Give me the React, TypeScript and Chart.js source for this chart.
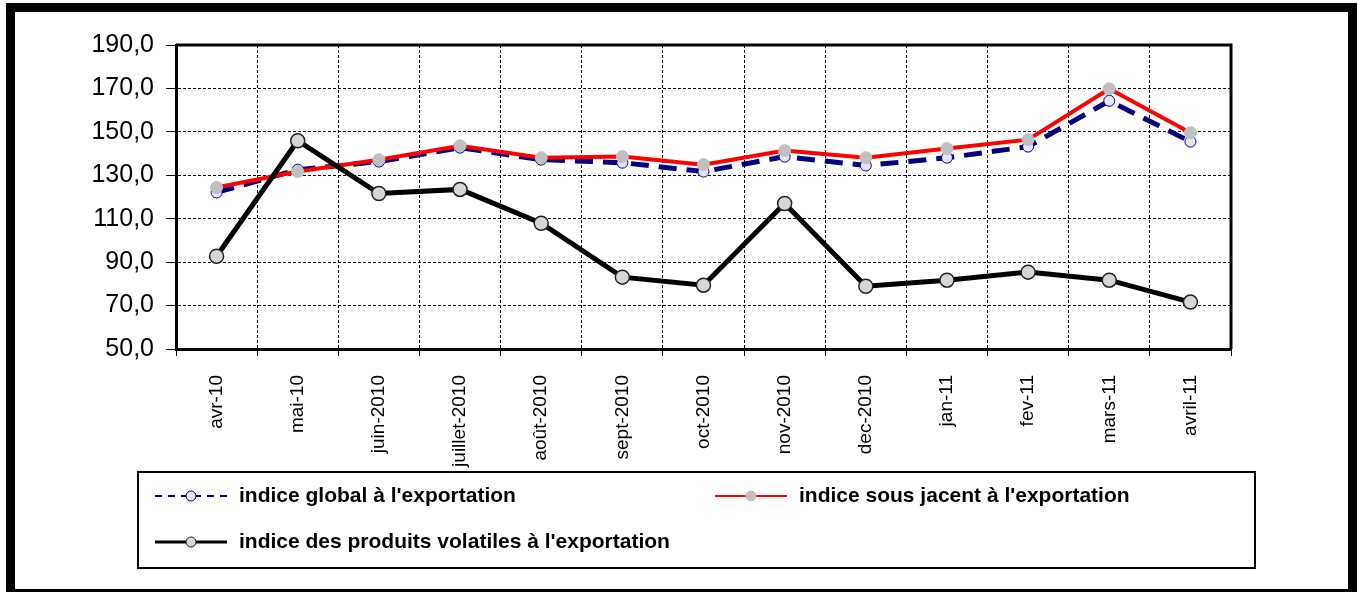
import React, { useEffect, useRef } from "react";
import { Chart, registerables } from "chart.js";

Chart.register(...registerables);

const months = [
  "avr-10", "mai-10", "juin-2010", "juillet-2010", "août-2010", "sept-2010",
  "oct-2010", "nov-2010", "dec-2010", "jan-11", "fev-11", "mars-11", "avril-11",
];
const indiceGlobal = [122.1, 132.6, 136.3, 142.7, 137.2, 135.8, 131.7, 138.6, 134.5, 138.1, 143.2, 164.3, 145.5];
const indiceSousJacent = [124.4, 131.7, 137.2, 143.6, 138.1, 138.6, 134.9, 141.4, 138.1, 142.3, 146.4, 169.8, 149.6];
const indiceVolatiles = [92.7, 145.9, 121.6, 123.5, 107.9, 83.1, 79.4, 117.0, 78.9, 81.7, 85.4, 81.7, 71.6];
const seriesNames = [
  "indice global à l'exportation",
  "indice sous jacent à l'exportation",
  "indice des produits volatiles à l'exportation",
];
const yMin = 50;
const yMax = 190;
const yStep = 20;

const FONT = "'Liberation Sans', Arial, sans-serif";

const framePlugin = {
  id: "frame",
  beforeDraw(chart: any) {
    const { ctx, width, height } = chart;
    ctx.save();
    ctx.fillStyle = "#ffffff";
    ctx.fillRect(0, 0, width, height);
    ctx.fillStyle = "#000000";
    ctx.fillRect(6, 3, 1351, 9); // top
    ctx.fillRect(6, 3, 9, 589); // left
    ctx.fillRect(1348, 3, 9, 589); // right
    ctx.fillRect(6, 589, 1351, 3); // bottom
    ctx.restore();
  },
  beforeDatasetsDraw(chart: any) {
    const { ctx, chartArea } = chart;
    ctx.save();
    ctx.strokeStyle = "#000";
    ctx.lineWidth = 3;
    ctx.beginPath();
    ctx.moveTo(chartArea.left, chartArea.top);
    ctx.lineTo(chartArea.right, chartArea.top);
    ctx.lineTo(chartArea.right, chartArea.bottom);
    ctx.stroke();
    ctx.restore();
  },
  afterDraw(chart: any) {
    const { ctx } = chart;
    ctx.save();
    // legend box
    ctx.fillStyle = "#fff";
    ctx.fillRect(138, 472, 1117, 96);
    ctx.strokeStyle = "#000";
    ctx.lineWidth = 2;
    ctx.strokeRect(138, 472, 1117, 96);
    const items = [
      { ds: 0, x: 155, y: 496, w: 2 },
      { ds: 1, x: 715, y: 496, w: 2 },
      { ds: 2, x: 155, y: 542, w: 3 },
    ];
    items.forEach((it) => {
      const d: any = chart.data.datasets[it.ds];
      ctx.save();
      ctx.strokeStyle = d.borderColor;
      ctx.lineWidth = it.w;
      ctx.setLineDash(d.borderDash && d.borderDash.length ? [7, 6] : []);
      ctx.beginPath();
      ctx.moveTo(it.x, it.y);
      ctx.lineTo(it.x + 72, it.y);
      ctx.stroke();
      ctx.setLineDash([]);
      ctx.beginPath();
      ctx.arc(it.x + 36, it.y, 5, 0, Math.PI * 2);
      ctx.fillStyle = d.pointBackgroundColor;
      ctx.fill();
      ctx.lineWidth = 1;
      ctx.strokeStyle = d.pointBorderColor;
      ctx.stroke();
      ctx.restore();
      ctx.fillStyle = "#000";
      ctx.font = `bold 21px ${FONT}`;
      ctx.textBaseline = "middle";
      ctx.textAlign = "left";
      ctx.fillText(d.label, it.x + 84, it.y);
    });
    ctx.restore();
  },
};

export default function App() {
  const ref = useRef<HTMLCanvasElement | null>(null);

  useEffect(() => {
    document.body.style.margin = "0";
    const canvas = ref.current;
    if (!canvas) return;
    const chart = new Chart(canvas, {
      type: "line",
      data: {
        labels: months,
        datasets: [
          {
            label: seriesNames[0],
            data: indiceGlobal,
            borderColor: "#000080",
            borderWidth: 5,
            borderDash: [18, 10],
            pointRadius: 5.5,
            pointBackgroundColor: "#e4e4f4",
            pointBorderColor: "#000080",
            pointBorderWidth: 1,
            tension: 0,
            order: 2,
          },
          {
            label: seriesNames[1],
            data: indiceSousJacent,
            borderColor: "#ff0000",
            borderWidth: 4,
            pointRadius: 6,
            pointBackgroundColor: "#c0c0c0",
            pointBorderColor: "#c0c0c0",
            pointBorderWidth: 1,
            tension: 0,
            order: 1,
          },
          {
            label: seriesNames[2],
            data: indiceVolatiles,
            borderColor: "#000000",
            borderWidth: 5,
            pointRadius: 7,
            pointBackgroundColor: "#d6d6d6",
            pointBorderColor: "#222222",
            pointBorderWidth: 1.5,
            tension: 0,
            order: 0,
          },
        ],
      },
      options: {
        responsive: false,
        animation: false,
        devicePixelRatio: 1,
        layout: { padding: { left: 0, right: 127, top: 45, bottom: 0 } },
        plugins: { legend: { display: false }, tooltip: { enabled: false } },
        scales: {
          x: {
            type: "category",
            offset: true,
            afterFit(scale: any) {
              scale.height = 243;
            },
            grid: {
              offset: true,
              color: "#000",
              lineWidth: 1,
              tickLength: 7,
              tickColor: "#000",
              tickWidth: 1,
            },
            border: { display: true, color: "#000", width: 3, dash: [3, 2] },
            ticks: {
              minRotation: 90,
              maxRotation: 90,
              autoSkip: false,
              padding: 19,
              color: "#000",
              font: { family: FONT, size: 19 },
            },
          },
          y: {
            min: yMin,
            max: yMax,
            afterFit(scale: any) {
              scale.width = 176;
            },
            grid: {
              color: "#000",
              lineWidth: 1,
              tickLength: 10,
              tickColor: "#000",
              tickWidth: 1,
            },
            border: { display: true, color: "#000", width: 3, dash: [3, 2] },
            ticks: {
              stepSize: yStep,
              padding: 12,
              color: "#000",
              font: { family: FONT, size: 25 },
              callback: (v: any) => Number(v).toFixed(1).replace(".", ","),
            },
          },
        },
      },
      plugins: [framePlugin],
    });
    return () => chart.destroy();
  }, []);

  return (
    <div style={{ width: 1358, height: 592, position: "relative" }}>
      <canvas ref={ref} width={1358} height={592} style={{ display: "block" }} />
    </div>
  );
}
